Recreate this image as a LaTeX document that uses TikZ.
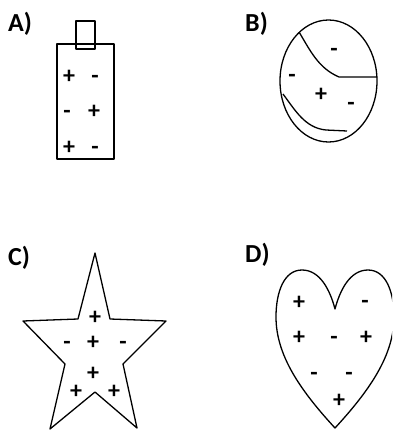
\documentclass[tikz,border=0pt]{standalone}
\usepackage{fontspec}
\setmainfont{Carlito}
\begin{document}
\begin{tikzpicture}[x=1pt,y=-1pt,
  outl/.style={draw=black, line width=1.3pt, line join=round},
  lbl/.style={anchor=base west, inner sep=0pt, font=\fontsize{26}{26}\selectfont\bfseries},
  sgn/.style={inner sep=0pt, text height=14pt, text depth=0pt, anchor=center, font=\fontsize{24}{24}\selectfont\bfseries}]
\useasboundingbox (0,0) rectangle (392,431);
\begin{scope}
\clip (0,0) rectangle (392,431);
% A) battery
\node[lbl] (la) at (8,31) {A)};
\draw[outl] (57,44) rectangle (114,159);
\draw[outl] (76,21) rectangle (95,49);
\node[sgn] (a1) at (69,76) {+};
\node[sgn] (a2) at (95,76) {-};
\node[sgn] (a3) at (67,111) {-};
\node[sgn] (a4) at (94,111) {+};
\node[sgn] (a5) at (69,147) {+};
\node[sgn] (a6) at (95,147) {-};
% B) ellipse
\node[lbl] (lb) at (245,31) {B)};
\draw[outl] (328.5,81) ellipse [x radius=48.5, y radius=61];
\draw[outl] (299,32) .. controls (310,50) and (318,68) .. (339,77) -- (377,77);
\draw[outl] (283,94) .. controls (295,110) and (305,128) .. (326,130) -- (347,131);
\node[sgn] (b1) at (334,49) {-};
\node[sgn] (b2) at (292,75) {-};
\node[sgn] (b3) at (321,94) {+};
\node[sgn] (b4) at (351,103) {-};
% C) star
\node[lbl] (lc) at (8,265) {C)};
\draw[outl] (95,253) -- (110,319) -- (166,321) -- (123,364) -- (137,428) -- (95,392) -- (50,429) -- (65,364) -- (23,321) -- (78,319) -- cycle;
\node[sgn] (c1) at (95,317) {+};
\node[sgn] (c2) at (67,342) {-};
\node[sgn] (c3) at (93,342) {+};
\node[sgn] (c4) at (123,342) {-};
\node[sgn] (c5) at (93,373) {+};
\node[sgn] (c6) at (76,391) {+};
\node[sgn] (c7) at (114,391) {+};
% D) heart
\node[lbl] (ld) at (245,262) {D)};
\draw[outl] (335,309) .. controls (330,290) and (320,270) .. (302,270)
  .. controls (284,270) and (276,292) .. (276,317)
  .. controls (276,355) and (300,390) .. (335,428)
  .. controls (370,390) and (394,355) .. (394,317)
  .. controls (394,292) and (386,270) .. (368,270)
  .. controls (350,270) and (340,290) .. cycle;
\node[sgn] (d1) at (299,302) {+};
\node[sgn] (d2) at (365,301) {-};
\node[sgn] (d3) at (299,337) {+};
\node[sgn] (d4) at (334,337) {-};
\node[sgn] (d5) at (366,337) {+};
\node[sgn] (d6) at (314,373) {-};
\node[sgn] (d7) at (349,373) {-};
\node[sgn] (d8) at (339,400) {+};
\end{scope}
\end{tikzpicture}
\end{document}
